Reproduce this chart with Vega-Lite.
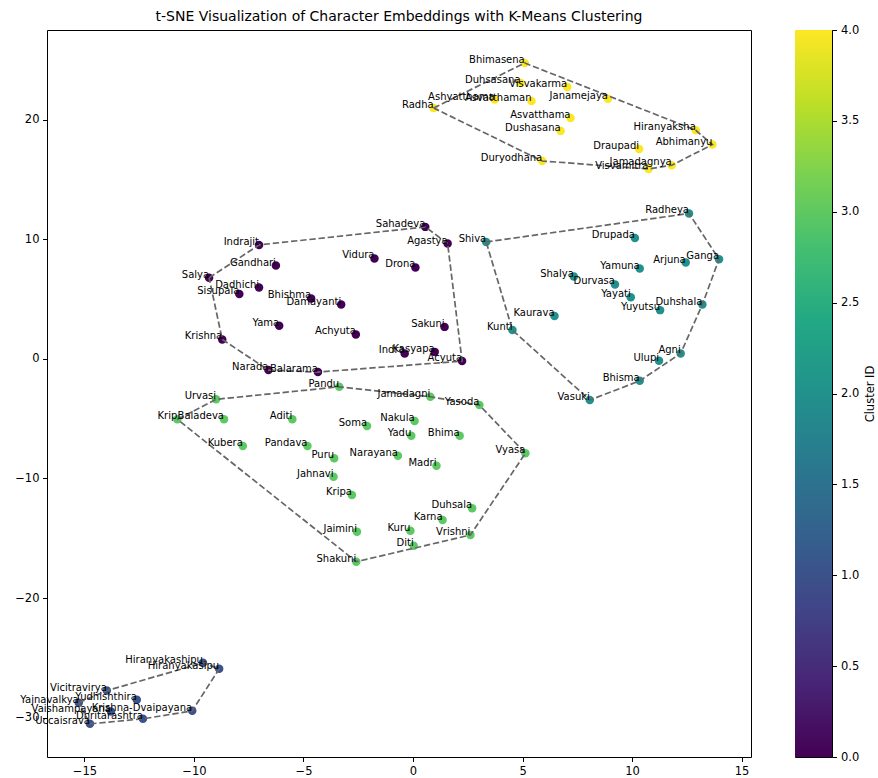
{
  "$schema": "https://vega.github.io/schema/vega-lite/v6.json",
  "padding": {"left": 14, "top": 9, "right": 5, "bottom": 5},
  "background": "white",
  "bounds": "flush",
  "spacing": 44,
  "config": {
    "view": {"stroke": "black", "strokeWidth": 1},
    "axis": {"domain": false, "grid": false, "ticks": true, "tickColor": "black", "tickSize": 4.5, "tickWidth": 1, "labelFont": "DejaVu Sans", "labelFontSize": 11.5, "labelColor": "black", "labelPadding": 3.5, "title": null}
  },
  "datasets": {
    "points": [
      {"name": "Bhimasena", "x": 5.10, "y": 24.73, "cluster": 4},
      {"name": "Duhsasana", "x": 4.91, "y": 23.06, "cluster": 4},
      {"name": "Visvakarma", "x": 7.04, "y": 22.72, "cluster": 4},
      {"name": "Janamejaya", "x": 8.90, "y": 21.75, "cluster": 4},
      {"name": "Ashyatthama", "x": 3.73, "y": 21.67, "cluster": 4},
      {"name": "Asvatthaman", "x": 5.41, "y": 21.56, "cluster": 4},
      {"name": "Radha", "x": 0.94, "y": 20.97, "cluster": 4},
      {"name": "Asvatthama", "x": 7.19, "y": 20.13, "cluster": 4},
      {"name": "Dushasana", "x": 6.74, "y": 19.05, "cluster": 4},
      {"name": "Hiranyaksha", "x": 12.91, "y": 19.11, "cluster": 4},
      {"name": "Abhimanyu", "x": 13.67, "y": 17.91, "cluster": 4},
      {"name": "Draupadi", "x": 10.32, "y": 17.54, "cluster": 4},
      {"name": "Duryodhana", "x": 5.90, "y": 16.54, "cluster": 4},
      {"name": "Jamadagnya", "x": 11.81, "y": 16.18, "cluster": 4},
      {"name": "Visvamitra", "x": 10.75, "y": 15.87, "cluster": 4},
      {"name": "Sahadeva", "x": 0.56, "y": 11.03, "cluster": 0},
      {"name": "Agastya", "x": 1.58, "y": 9.64, "cluster": 0},
      {"name": "Indrajit", "x": -7.03, "y": 9.52, "cluster": 0},
      {"name": "Gandhari", "x": -6.26, "y": 7.80, "cluster": 0},
      {"name": "Vidura", "x": -1.76, "y": 8.39, "cluster": 0},
      {"name": "Drona", "x": 0.11, "y": 7.64, "cluster": 0},
      {"name": "Salya", "x": -9.31, "y": 6.77, "cluster": 0},
      {"name": "Dadhichi", "x": -7.03, "y": 5.96, "cluster": 0},
      {"name": "Sisupala", "x": -7.93, "y": 5.41, "cluster": 0},
      {"name": "Bhishma", "x": -4.65, "y": 5.05, "cluster": 0},
      {"name": "Damayanti", "x": -3.28, "y": 4.54, "cluster": 0},
      {"name": "Yama", "x": -6.11, "y": 2.76, "cluster": 0},
      {"name": "Sakuni", "x": 1.44, "y": 2.67, "cluster": 0},
      {"name": "Achyuta", "x": -2.61, "y": 2.04, "cluster": 0},
      {"name": "Krishna", "x": -8.71, "y": 1.62, "cluster": 0},
      {"name": "Indra", "x": -0.38, "y": 0.45, "cluster": 0},
      {"name": "Kasyapa", "x": 0.99, "y": 0.58, "cluster": 0},
      {"name": "Acyuta", "x": 2.24, "y": -0.19, "cluster": 0},
      {"name": "Narada", "x": -6.60, "y": -0.94, "cluster": 0},
      {"name": "Balarama", "x": -4.34, "y": -1.11, "cluster": 0},
      {"name": "Radheya", "x": 12.60, "y": 12.15, "cluster": 2},
      {"name": "Shiva", "x": 3.34, "y": 9.77, "cluster": 2},
      {"name": "Drupada", "x": 10.13, "y": 10.11, "cluster": 2},
      {"name": "Ganga", "x": 13.97, "y": 8.33, "cluster": 2},
      {"name": "Arjuna", "x": 12.45, "y": 8.05, "cluster": 2},
      {"name": "Yamuna", "x": 10.35, "y": 7.55, "cluster": 2},
      {"name": "Shalya", "x": 7.34, "y": 6.88, "cluster": 2},
      {"name": "Durvasa", "x": 9.22, "y": 6.22, "cluster": 2},
      {"name": "Yayati", "x": 9.94, "y": 5.15, "cluster": 2},
      {"name": "Duhshala", "x": 13.21, "y": 4.54, "cluster": 2},
      {"name": "Yuyutsu", "x": 11.28, "y": 4.07, "cluster": 2},
      {"name": "Kaurava", "x": 6.46, "y": 3.57, "cluster": 2},
      {"name": "Kunti", "x": 4.54, "y": 2.40, "cluster": 2},
      {"name": "Agni", "x": 12.22, "y": 0.45, "cluster": 2},
      {"name": "Ulupi", "x": 11.23, "y": -0.17, "cluster": 2},
      {"name": "Bhisma", "x": 10.35, "y": -1.84, "cluster": 2},
      {"name": "Vasuki", "x": 8.07, "y": -3.45, "cluster": 2},
      {"name": "Pandu", "x": -3.37, "y": -2.34, "cluster": 3},
      {"name": "Jamadagni", "x": 0.79, "y": -3.17, "cluster": 3},
      {"name": "Urvasi", "x": -8.99, "y": -3.39, "cluster": 3},
      {"name": "Yasoda", "x": 3.03, "y": -3.87, "cluster": 3},
      {"name": "Krip", "x": -10.76, "y": -5.06, "cluster": 3},
      {"name": "Baladeva", "x": -8.63, "y": -5.06, "cluster": 3},
      {"name": "Aditi", "x": -5.51, "y": -5.06, "cluster": 3},
      {"name": "Nakula", "x": 0.07, "y": -5.20, "cluster": 3},
      {"name": "Soma", "x": -2.10, "y": -5.62, "cluster": 3},
      {"name": "Yadu", "x": -0.08, "y": -6.43, "cluster": 3},
      {"name": "Bhima", "x": 2.13, "y": -6.43, "cluster": 3},
      {"name": "Kubera", "x": -7.77, "y": -7.29, "cluster": 3},
      {"name": "Pandava", "x": -4.82, "y": -7.29, "cluster": 3},
      {"name": "Vyasa", "x": 5.13, "y": -7.90, "cluster": 3},
      {"name": "Narayana", "x": -0.69, "y": -8.10, "cluster": 3},
      {"name": "Puru", "x": -3.60, "y": -8.32, "cluster": 3},
      {"name": "Madri", "x": 1.07, "y": -8.94, "cluster": 3},
      {"name": "Jahnavi", "x": -3.63, "y": -9.86, "cluster": 3},
      {"name": "Kripa", "x": -2.79, "y": -11.39, "cluster": 3},
      {"name": "Duhsala", "x": 2.70, "y": -12.50, "cluster": 3},
      {"name": "Karna", "x": 1.35, "y": -13.48, "cluster": 3},
      {"name": "Jaimini", "x": -2.56, "y": -14.45, "cluster": 3},
      {"name": "Kuru", "x": -0.12, "y": -14.37, "cluster": 3},
      {"name": "Vrishni", "x": 2.62, "y": -14.73, "cluster": 3},
      {"name": "Diti", "x": 0.03, "y": -15.62, "cluster": 3},
      {"name": "Shakuni", "x": -2.59, "y": -16.96, "cluster": 3},
      {"name": "Hiranyakashipu", "x": -9.59, "y": -25.42, "cluster": 1},
      {"name": "Hiranyakasipu", "x": -8.85, "y": -25.92, "cluster": 1},
      {"name": "Vicitravirya", "x": -13.98, "y": -27.74, "cluster": 1},
      {"name": "Yudhishthira", "x": -12.61, "y": -28.51, "cluster": 1},
      {"name": "Yajnavalkya", "x": -15.26, "y": -28.76, "cluster": 1},
      {"name": "Vaishampayana", "x": -13.79, "y": -29.49, "cluster": 1},
      {"name": "Krishna-Dvaipayana", "x": -10.08, "y": -29.43, "cluster": 1},
      {"name": "Dhritarashtra", "x": -12.33, "y": -30.10, "cluster": 1},
      {"name": "Uccaisrava", "x": -14.75, "y": -30.52, "cluster": 1}
    ],
    "hull": [
      {"cluster": 4, "order": 0, "x": 0.94, "y": 20.97},
      {"cluster": 4, "order": 1, "x": 5.10, "y": 24.73},
      {"cluster": 4, "order": 2, "x": 12.91, "y": 19.11},
      {"cluster": 4, "order": 3, "x": 13.67, "y": 17.91},
      {"cluster": 4, "order": 4, "x": 11.81, "y": 16.18},
      {"cluster": 4, "order": 5, "x": 10.75, "y": 15.87},
      {"cluster": 4, "order": 6, "x": 5.90, "y": 16.54},
      {"cluster": 4, "order": 7, "x": 0.94, "y": 20.97},
      {"cluster": 0, "order": 0, "x": -9.31, "y": 6.77},
      {"cluster": 0, "order": 1, "x": -7.03, "y": 9.52},
      {"cluster": 0, "order": 2, "x": 0.56, "y": 11.03},
      {"cluster": 0, "order": 3, "x": 1.58, "y": 9.64},
      {"cluster": 0, "order": 4, "x": 2.24, "y": -0.19},
      {"cluster": 0, "order": 5, "x": -4.34, "y": -1.11},
      {"cluster": 0, "order": 6, "x": -6.60, "y": -0.94},
      {"cluster": 0, "order": 7, "x": -8.71, "y": 1.62},
      {"cluster": 0, "order": 8, "x": -9.31, "y": 6.77},
      {"cluster": 2, "order": 0, "x": 3.34, "y": 9.77},
      {"cluster": 2, "order": 1, "x": 12.60, "y": 12.15},
      {"cluster": 2, "order": 2, "x": 13.97, "y": 8.33},
      {"cluster": 2, "order": 3, "x": 13.21, "y": 4.54},
      {"cluster": 2, "order": 4, "x": 12.22, "y": 0.45},
      {"cluster": 2, "order": 5, "x": 10.35, "y": -1.84},
      {"cluster": 2, "order": 6, "x": 8.07, "y": -3.45},
      {"cluster": 2, "order": 7, "x": 4.54, "y": 2.40},
      {"cluster": 2, "order": 8, "x": 3.34, "y": 9.77},
      {"cluster": 3, "order": 0, "x": -10.76, "y": -5.06},
      {"cluster": 3, "order": 1, "x": -8.99, "y": -3.39},
      {"cluster": 3, "order": 2, "x": -3.37, "y": -2.34},
      {"cluster": 3, "order": 3, "x": 0.79, "y": -3.17},
      {"cluster": 3, "order": 4, "x": 3.03, "y": -3.87},
      {"cluster": 3, "order": 5, "x": 5.13, "y": -7.90},
      {"cluster": 3, "order": 6, "x": 2.62, "y": -14.73},
      {"cluster": 3, "order": 7, "x": -2.59, "y": -16.96},
      {"cluster": 3, "order": 8, "x": -10.76, "y": -5.06},
      {"cluster": 1, "order": 0, "x": -15.26, "y": -28.76},
      {"cluster": 1, "order": 1, "x": -13.98, "y": -27.74},
      {"cluster": 1, "order": 2, "x": -9.59, "y": -25.42},
      {"cluster": 1, "order": 3, "x": -8.85, "y": -25.92},
      {"cluster": 1, "order": 4, "x": -10.08, "y": -29.43},
      {"cluster": 1, "order": 5, "x": -12.33, "y": -30.10},
      {"cluster": 1, "order": 6, "x": -14.75, "y": -30.52},
      {"cluster": 1, "order": 7, "x": -15.26, "y": -28.76}
    ],
    "colorbar": [
      {"lo": 0, "hi": 4}
    ]
  },
  "hconcat": [
    {
      "width": 704,
      "height": 727,
      "title": {"text": "t-SNE Visualization of Character Embeddings with K-Means Clustering", "font": "DejaVu Sans", "fontSize": 14, "fontWeight": "normal", "color": "black", "anchor": "middle", "offset": 6},
      "layer": [
        {
          "data": {"name": "points"},
          "mark": {"type": "circle", "size": 72, "opacity": 1},
          "encoding": {
            "x": {"field": "x", "type": "quantitative", "scale": {"domain": [-16.71, 15.43], "nice": false, "zero": false}, "axis": {"values": [-15, -10, -5, 0, 5, 10, 15]}},
            "y": {"field": "y", "type": "quantitative", "scale": {"domain": [-33.29, 27.49], "nice": false, "zero": false}, "axis": {"values": [-30, -20, -10, 0, 10, 20]}},
            "color": {"field": "cluster", "type": "quantitative", "scale": {"scheme": "viridis", "domain": [0, 4]}, "legend": null}
          }
        },
        {
          "data": {"name": "hull"},
          "mark": {"type": "line", "color": "#666666", "strokeWidth": 1.7, "strokeDash": [6.4, 2.8]},
          "encoding": {
            "x": {"field": "x", "type": "quantitative"},
            "y": {"field": "y", "type": "quantitative"},
            "detail": {"field": "cluster", "type": "nominal"},
            "order": {"field": "order", "type": "quantitative"}
          }
        },
        {
          "data": {"name": "points"},
          "mark": {"type": "text", "align": "right", "baseline": "alphabetic", "font": "DejaVu Sans", "fontSize": 10, "color": "black"},
          "encoding": {
            "x": {"field": "x", "type": "quantitative"},
            "y": {"field": "y", "type": "quantitative"},
            "text": {"field": "name"}
          }
        }
      ]
    },
    {
      "width": 37,
      "height": 727,
      "data": {"name": "colorbar"},
      "mark": {"type": "rect", "color": {"gradient": "linear", "x1": 0, "y1": 1, "x2": 0, "y2": 0, "stops": [
        {"offset": 0.0, "color": "#440154"},
        {"offset": 0.1, "color": "#482475"},
        {"offset": 0.2, "color": "#414487"},
        {"offset": 0.3, "color": "#355f8d"},
        {"offset": 0.4, "color": "#2a788e"},
        {"offset": 0.5, "color": "#21918c"},
        {"offset": 0.6, "color": "#22a884"},
        {"offset": 0.7, "color": "#44bf70"},
        {"offset": 0.8, "color": "#7ad151"},
        {"offset": 0.9, "color": "#bddf26"},
        {"offset": 1.0, "color": "#fde725"}
      ]}},
      "encoding": {
        "y": {"field": "lo", "type": "quantitative", "scale": {"domain": [0, 4], "nice": false, "zero": false},
          "axis": {"orient": "right", "values": [0, 0.5, 1, 1.5, 2, 2.5, 3, 3.5, 4], "format": ".1f", "title": "Cluster ID", "titleAngle": 270, "titleBaseline": "top", "titleFont": "DejaVu Sans", "titleFontSize": 11.5, "titleFontWeight": "normal", "titleColor": "black", "titlePadding": 6, "labelPadding": 4}},
        "y2": {"field": "hi"}
      }
    }
  ]
}
